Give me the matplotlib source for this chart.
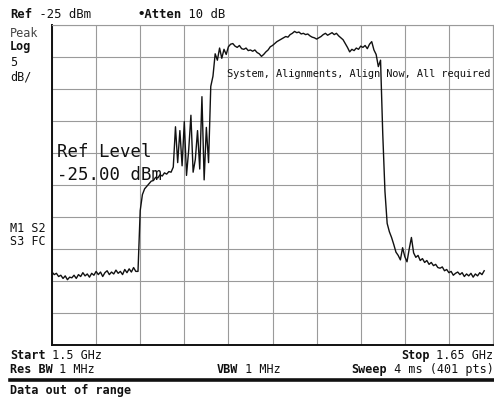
import numpy as np
import matplotlib
matplotlib.use("Agg")
import matplotlib.pyplot as plt

# ---- analyzer settings ----
start_mhz = 1500.0
stop_mhz = 1650.0
step_mhz = 0.75          # sweep point spacing of the transcribed trace
ref_dbm = -25.0
db_per_div = 5.0
n_div = 10

noise_low = [-63.6, -64.0, -63.8, -64.3, -64.1, -64.6, -64.2, -64.8, -64.4, -64.5,
             -64.1, -64.6, -64.0, -64.3, -63.7, -64.2, -63.9, -64.4, -63.8, -64.1,
             -63.5, -64.0, -63.6, -64.3, -63.7, -63.4, -64.0, -63.6, -63.9, -63.3,
             -63.8, -63.5, -64.0, -63.2, -63.7, -63.1, -63.6, -62.9, -63.5, -63.5]
step_up = [-54.0, -51.5, -50.6, -50.2, -49.8, -49.4, -49.3, -48.8, -48.9, -48.4,
           -48.6, -48.1, -48.3, -47.9, -48.0, -47.2]
spurs = [-40.9, -46.5, -41.5, -47.0, -40.1, -48.5, -44.5, -39.1, -48.0, -46.0,
         -41.5, -47.5, -36.2, -49.2, -41.0, -46.5]
band = [-34.6, -33.0, -29.5, -30.5, -28.6, -30.2, -28.8, -29.6, -28.4, -28.0,
        -27.9, -28.3, -28.5, -28.2, -28.7, -28.8, -28.6, -29.0, -28.9, -29.1,
        -28.9, -29.3, -29.5, -29.9, -29.6, -29.2, -28.9, -28.4, -28.2, -27.9,
        -27.6, -27.4, -27.2, -27.0, -26.8, -26.9, -26.5, -26.3, -26.0, -26.2,
        -26.1, -26.4, -26.3, -26.5, -26.4, -26.7, -26.9, -27.0, -27.2, -27.0,
        -26.8, -26.5, -26.3, -26.6, -26.4, -26.2, -26.5, -26.3, -26.7, -27.0,
        -27.3, -27.9, -28.5, -29.2, -28.8, -29.0, -28.6, -28.8, -28.3, -28.5,
        -28.2, -28.7, -28.0, -27.6, -28.9, -29.6, -31.5, -30.5]
fall = [-42.0, -51.0, -56.0, -57.3, -58.2, -59.3, -60.5, -61.0, -61.7, -59.8,
        -61.2, -62.0, -60.0, -58.2, -60.6, -61.3, -61.0, -61.8, -61.5, -62.1,
        -61.8, -62.4, -62.1, -62.6, -62.4, -62.9, -63.0, -62.8, -63.4, -63.2,
        -63.7, -63.5, -64.1, -63.8, -63.6, -64.0, -63.7, -64.3, -63.9, -64.2,
        -63.8, -64.4, -63.9, -64.2, -63.7, -64.0, -63.4]
levels = noise_low + step_up + spurs + band + fall
freqs = start_mhz + step_mhz * np.arange(len(levels))

W, H, DPI = 494, 403, 100
fig = plt.figure(figsize=(W / DPI, H / DPI), dpi=DPI)
fig.patch.set_facecolor("white")

# axes in pixel geometry
x0, x1, y0, y1 = 52, 493, 25, 345
ax = fig.add_axes([x0 / W, 1 - y1 / H, (x1 - x0) / W, (y1 - y0) / H])
ax.set_xlim(start_mhz, stop_mhz)
bottom_db = ref_dbm - db_per_div * n_div
ax.set_ylim(bottom_db, ref_dbm)
ax.set_xticks(np.linspace(start_mhz, stop_mhz, n_div + 1))
ax.set_yticks(np.linspace(bottom_db, ref_dbm, n_div + 1))
ax.tick_params(length=0, labelbottom=False, labelleft=False)
ax.grid(True, color="#9a9a9a", lw=0.8)
ax.set_axisbelow(True)
for s in ("left", "bottom"):
    ax.spines[s].set_color("#111111")
    ax.spines[s].set_linewidth(1.4)
for s in ("top", "right"):
    ax.spines[s].set_color("#9a9a9a")
    ax.spines[s].set_linewidth(0.8)

ax.plot(freqs, levels, color="#111111", lw=1.0)

MONO = "DejaVu Sans Mono"


def put(x, y, segs, size=8.5, color="#111111", ha="left"):
    cw = 0.6 * size * DPI / 72.0
    total = sum(len(t) for t, _ in segs) * cw
    if ha == "right":
        x = x - total
    for t, b in segs:
        fig.text(x / W, 1 - y / H, t, fontsize=size, family=MONO,
                 fontweight="bold" if b else "normal", color=color,
                 va="baseline", ha="left")
        x += len(t) * cw


put(10, 18, [("Ref", True), (" -25 dBm", False)], size=8.8)
put(137, 18, [("•Atten", True), (" 10 dB", False)], size=8.8)
put(10, 37, [("Peak", False)], color="#444444")
put(10, 50, [("Log", True)])
put(10, 66, [("5", False)])
put(10, 80, [("dB/", False)])
put(10, 232, [("M1 S2", False)])
put(10, 245, [("S3 FC", False)])

put(227, 77, [("System, Alignments, Align Now, All required", False)], size=7.4)

put(57, 157, [("Ref Level", False)], size=12.5)
put(57, 180, [("-25.00 dBm", False)], size=12.5)

put(10, 359, [("Start", True), (" 1.5 GHz", False)])
put(493, 359, [("Stop", True), (" 1.65 GHz", False)], ha="right")
put(10, 373, [("Res BW", True), (" 1 MHz", False)])
put(217, 373, [("VBW", True), (" 1 MHz", False)])
put(493, 373, [("Sweep", True), (" 4 ms (401 pts)", False)], ha="right")

fig.add_artist(plt.Line2D([10 / W, 493 / W], [1 - 380 / H, 1 - 380 / H],
                          color="#111111", lw=2.6))
put(10, 394, [("Data out of range", True)])

fig.savefig("out.png", dpi=DPI, facecolor="white")
